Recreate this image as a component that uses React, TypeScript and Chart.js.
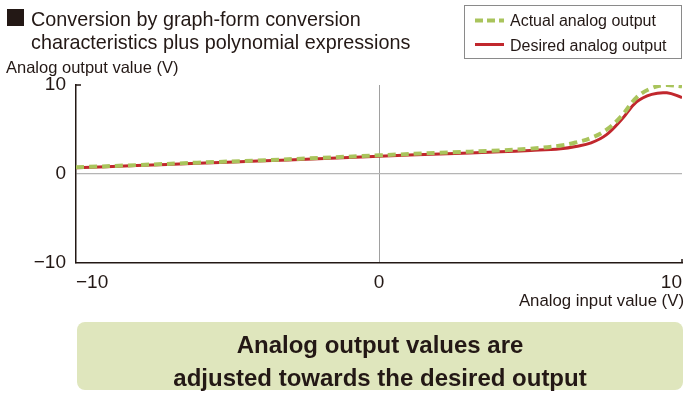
import React, { useEffect, useRef } from "react";
import { Chart, registerables } from "chart.js";

Chart.register(...registerables);

const inputX = [-10, -8, -6, -4, -2, 0, 2, 4, 5, 6, 6.5, 7, 7.5, 8, 8.5, 9, 9.5, 10];
const actualOutput = [0.75, 1.0, 1.27, 1.52, 1.8, 2.1, 2.38, 2.65, 2.85, 3.2, 3.55, 4.05, 4.95, 6.5, 8.6, 9.65, 10.0, 9.85];
const desiredOutput = [0.7, 0.95, 1.2, 1.45, 1.72, 2.0, 2.25, 2.5, 2.65, 2.85, 3.1, 3.5, 4.4, 6.1, 8.1, 8.95, 9.12, 8.6];
const xTicks = [-10, 0, 10];
const yTicks = [-10, 0, 10];

const TEXT = "#231815";
const GREEN = "#a9c45c";
const RED = "#c1272d";
const FONT = '"Liberation Sans", Arial, Helvetica, sans-serif';

const fmt = (v: number) => (v < 0 ? "\u2212" + Math.abs(v) : String(v));

const endTicks = {
  id: "endTicks",
  afterDraw(chart: any) {
    const { ctx, chartArea } = chart;
    ctx.save();
    ctx.strokeStyle = TEXT;
    ctx.lineWidth = 1.5;
    ctx.beginPath();
    ctx.moveTo(chartArea.left, chartArea.top);
    ctx.lineTo(chartArea.left + 5, chartArea.top);
    ctx.moveTo(chartArea.right, chartArea.bottom);
    ctx.lineTo(chartArea.right, chartArea.bottom - 4);
    ctx.stroke();
    ctx.restore();
  },
};

export default function App() {
  const ref = useRef<HTMLCanvasElement>(null);
  useEffect(() => {
    if (!ref.current) return;
    const chart = new Chart(ref.current, {
      type: "line",
      data: {
        datasets: [
          {
            label: "Actual analog output",
            data: inputX.map((x, i) => ({ x, y: actualOutput[i] })),
            borderColor: GREEN,
            borderWidth: 4,
            borderDash: [8, 5],
            pointRadius: 0,
            tension: 0.4,
            fill: false,
            order: 0,
          },
          {
            label: "Desired analog output",
            data: inputX.map((x, i) => ({ x, y: desiredOutput[i] })),
            borderColor: RED,
            borderWidth: 3,
            pointRadius: 0,
            tension: 0.4,
            fill: false,
            order: 1,
          },
        ],
      },
      options: {
        responsive: false,
        animation: false,
        layout: { padding: { left: 0, right: 8, top: 85, bottom: 0 } },
        plugins: { legend: { display: false }, tooltip: { enabled: false } },
        scales: {
          x: {
            type: "linear",
            min: -10,
            max: 10,
            afterBuildTicks: (s: any) => {
              s.ticks = xTicks.map((v) => ({ value: v }));
            },
            afterFit: (s: any) => {
              s.height = 133;
            },
            ticks: {
              align: "inner",
              padding: 8,
              color: TEXT,
              font: { family: FONT, size: 19 },
              callback: (v: any) => fmt(Number(v)),
            },
            grid: {
              drawTicks: false,
              color: (c: any) => (c.tick && c.tick.value === 0 ? "#a0a0a0" : "rgba(0,0,0,0)"),
              lineWidth: 1,
            },
            border: { color: TEXT, width: 1.5 },
          },
          y: {
            type: "linear",
            min: -10,
            max: 10,
            afterBuildTicks: (s: any) => {
              s.ticks = yTicks.map((v) => ({ value: v }));
            },
            afterFit: (s: any) => {
              s.width = 76;
            },
            ticks: {
              padding: 10,
              color: TEXT,
              font: { family: FONT, size: 19 },
              callback: (v: any) => fmt(Number(v)),
            },
            grid: {
              drawTicks: false,
              color: (c: any) => (c.tick && c.tick.value === 0 ? "#b5b5b5" : "rgba(0,0,0,0)"),
              lineWidth: 1.2,
            },
            border: { color: TEXT, width: 1.5 },
          },
        },
      },
      plugins: [endTicks],
    } as any);
    return () => chart.destroy();
  }, []);

  return (
    <div
      style={{
        position: "absolute",
        left: 0,
        top: 0,
        width: 690,
        height: 396,
        background: "#fff",
        fontFamily: FONT,
        color: TEXT,
        overflow: "hidden",
      }}
    >
      <canvas ref={ref} width={690} height={396} style={{ position: "absolute", left: 0, top: 0 }} />
      <div style={{ position: "absolute", left: 7, top: 9, width: 17, height: 17, background: TEXT }} />
      <div style={{ position: "absolute", left: 31, top: 8, fontSize: 19.8, lineHeight: "23px", whiteSpace: "nowrap" }}>
        Conversion by graph-form conversion
        <br />
        characteristics plus polynomial expressions
      </div>
      <div style={{ position: "absolute", left: 6, top: 58, fontSize: 16.5, lineHeight: "18px", whiteSpace: "nowrap" }}>
        Analog output value (V)
      </div>
      <div
        style={{
          position: "absolute",
          right: 6,
          top: 292,
          fontSize: 16.8,
          lineHeight: "18px",
          whiteSpace: "nowrap",
        }}
      >
        Analog input value (V)
      </div>
      <div
        style={{
          position: "absolute",
          left: 464,
          top: 5,
          width: 216,
          height: 52,
          border: "1px solid #8a8a8a",
          background: "#fff",
        }}
      >
        <svg width={45} height={52} style={{ position: "absolute", left: 0, top: 0 }}>
          <line x1={10} y1={14.5} x2={39} y2={14.5} stroke={GREEN} strokeWidth={4} strokeDasharray="8 4" />
          <line x1={10} y1={38.5} x2={39} y2={38.5} stroke={RED} strokeWidth={3} />
        </svg>
        <div style={{ position: "absolute", left: 45, top: 5, fontSize: 16, lineHeight: "20px", whiteSpace: "nowrap" }}>
          Actual analog output
        </div>
        <div style={{ position: "absolute", left: 45, top: 30, fontSize: 16, lineHeight: "20px", whiteSpace: "nowrap" }}>
          Desired analog output
        </div>
      </div>
      <div
        style={{
          position: "absolute",
          left: 77,
          top: 322,
          width: 606,
          height: 68,
          borderRadius: 8,
          background: "#dfe6bd",
          display: "flex",
          flexDirection: "column",
          alignItems: "center",
          justifyContent: "center",
          fontWeight: "bold",
          fontSize: 24,
          lineHeight: "33px",
          paddingTop: 10,
          boxSizing: "border-box",
        }}
      >
        <div>Analog output values are</div>
        <div>adjusted towards the desired output</div>
      </div>
    </div>
  );
}
